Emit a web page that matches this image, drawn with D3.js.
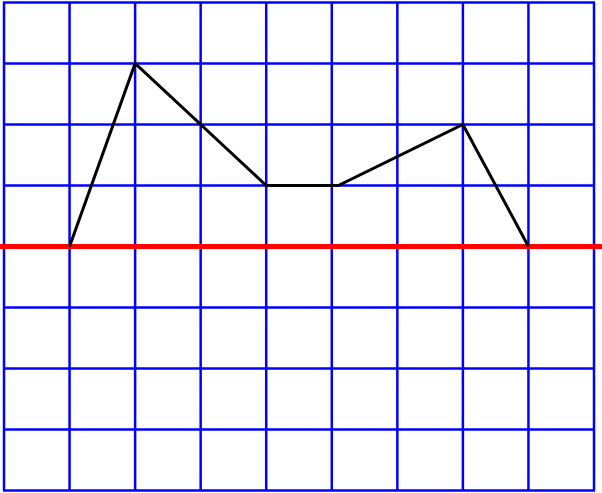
<!DOCTYPE html>
<html><head><meta charset="utf-8">
<script src="https://cdn.jsdelivr.net/npm/d3@7"></script>
<style>html,body{margin:0;padding:0;background:#fff;}svg{display:block;}</style>
</head><body>
<script>
const gridX = [0,1,2,3,4,5,6,7,8,9];
const gridY = [-4,-3,-2,-1,0,1,2,3,4];
const xs = [1, 2, 4, 5.1, 7, 8];
const ys = [0, 3, 1, 1, 2, 0];

const W = 602, H = 493;
const x = d3.scaleLinear().domain([0, 9]).range([4, 594]);
const y = d3.scaleLinear().domain([-4, 4]).range([490.5, 2.5]);

const svg = d3.select("body").append("svg").attr("width", W).attr("height", H);

svg.selectAll("line.v").data(gridX).join("line").attr("class","v")
  .attr("x1", d => x(d)).attr("x2", d => x(d))
  .attr("y1", y(4)).attr("y2", y(-4))
  .attr("stroke", "#0000ff").attr("stroke-width", 2.5);
svg.selectAll("line.h").data(gridY).join("line").attr("class","h")
  .attr("x1", x(0) - 1).attr("x2", x(9) + 1)
  .attr("y1", d => y(d)).attr("y2", d => y(d))
  .attr("stroke", "#0000ff").attr("stroke-width", 2.5);

svg.append("line")
  .attr("x1", 0).attr("x2", W)
  .attr("y1", y(0)).attr("y2", y(0))
  .attr("stroke", "#ff0000").attr("stroke-width", 5);

const line = d3.line().x(d => x(d[0])).y(d => y(d[1]));
svg.append("path").datum(xs.map((v,i) => [v, ys[i]]))
  .attr("d", line).attr("fill", "none")
  .attr("stroke", "#000").attr("stroke-width", 3).attr("stroke-linejoin","miter");
</script>
</body></html>
